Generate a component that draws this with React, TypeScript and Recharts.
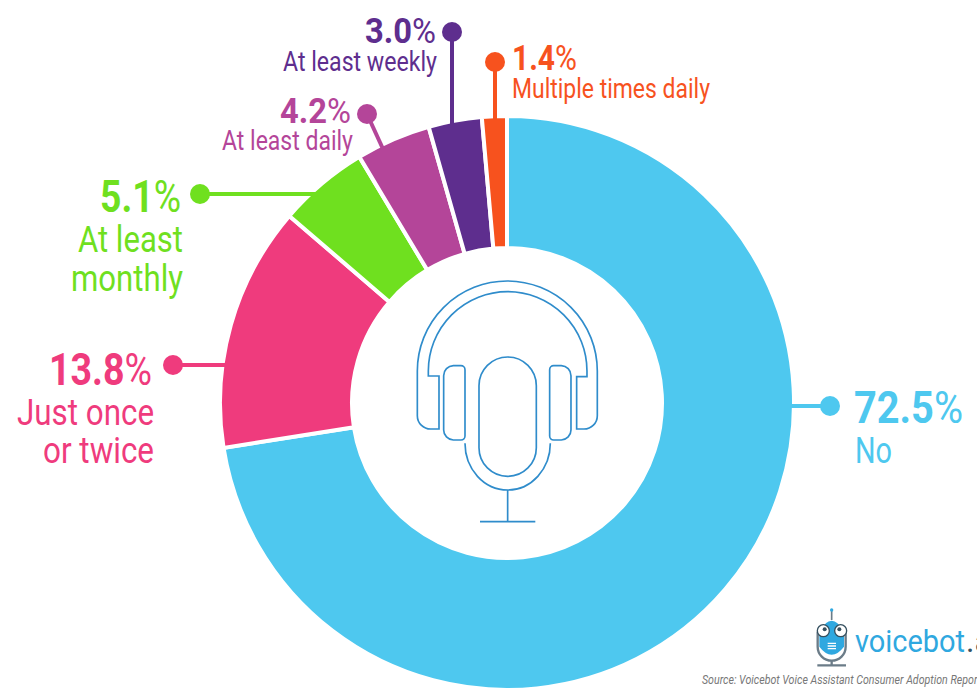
import { PieChart, Pie } from "recharts";

const categories = ["No", "Just once or twice", "At least monthly", "At least daily", "At least weekly", "Multiple times daily"];
const shares = [72.5, 13.8, 5.1, 4.2, 3.0, 1.4];
const colors = ["#4ec8ef", "#ef3b7d", "#6fe01f", "#b44599", "#5e2e8e", "#f7521e"];

const tableData = categories.map((name, i) => ({ name, value: shares[i], fill: colors[i] }));

const FONT = "Roboto, sans-serif";

// callout placement, same order as categories
const callouts = [
  { dot: [830, 406], end: [790, 406], num: [854, 423, 45, 109], lines: [{ t: "No", x: 855, y: 463, w: 37 }], size: 36 },
  { dot: [173, 365], end: [226, 365], num: [49, 385, 45, 103], lines: [{ t: "Just once", x: 17, y: 425, w: 137 }, { t: "or twice", x: 43, y: 463, w: 111 }], size: 36 },
  { dot: [200, 194], end: [318, 194], num: [100, 212, 45, 81], lines: [{ t: "At least", x: 78, y: 252, w: 105 }, { t: "monthly", x: 71, y: 291, w: 112 }], size: 36 },
  { dot: [367, 114], end: [383, 149], num: [280, 123, 35, 71], lines: [{ t: "At least daily", x: 222, y: 150, w: 131 }], size: 27 },
  { dot: [452, 32], end: [452, 128], num: [365, 43, 35, 71], lines: [{ t: "At least weekly", x: 283, y: 71, w: 154 }], size: 27 },
  { dot: [495, 62], end: [495, 122], num: [512, 70, 35, 65], lines: [{ t: "Multiple times daily", x: 512, y: 98, w: 198 }], size: 27 },
];

function renderCallout(props: any) {
  const c = callouts[props.index];
  const color = colors[props.index];
  const [nx, ny, nsize, nw] = c.num;
  return (
    <g key={props.index} fontFamily={FONT}>
      <line x1={c.dot[0]} y1={c.dot[1]} x2={c.end[0]} y2={c.end[1]} stroke={color} strokeWidth={4} />
      <circle cx={c.dot[0]} cy={c.dot[1]} r={10} fill={color} />
      <text x={nx} y={ny} fontSize={nsize} fill={color} textLength={nw} lengthAdjust="spacingAndGlyphs">
        <tspan fontWeight={700}>{shares[props.index].toFixed(1)}</tspan>
        <tspan fontWeight={400}>%</tspan>
      </text>
      {c.lines.map((l) => (
        <text key={l.t} x={l.x} y={l.y} fontSize={c.size} fill={color} textLength={l.w} lengthAdjust="spacingAndGlyphs">
          {l.t}
        </text>
      ))}
    </g>
  );
}

// traced in a 3x grid, hence the scale
function Headset() {
  return (
    <g transform="translate(400,290) scale(0.3333)" fill="none" stroke="#2f8ccb" strokeWidth={5}>
      <path d="M117 258H85V243A238 238 0 0 1 561 243V260H530V417H552A40 40 0 0 0 592 377V243A270 270 0 0 0 52 243V377A40 40 0 0 0 92 417H117Z" />
      <path d="M160 227H183A12 12 0 0 1 195 239V438A12 12 0 0 1 183 450H160A30 30 0 0 1 131 420V257A30 30 0 0 1 160 227Z" />
      <path d="M484 227H461A12 12 0 0 0 449 239V438A12 12 0 0 0 461 450H484A30 30 0 0 0 513 420V257A30 30 0 0 0 484 227Z" />
      <rect x={237} y={201} width={172} height={358} rx={86} />
      <path d="M195 460A128 140 0 0 0 451 460" />
      <path d="M323 600V695M240 695H406" />
    </g>
  );
}

function Logo() {
  return (
    <g>
      <g transform="translate(780,590) scale(0.3333)">
        <path d="M113 125V170A42 42 0 0 0 197 170V125" fill="none" stroke="#6b7c88" strokeWidth={7} />
        <path d="M155 212V225M112 226H198" stroke="#6b7c88" strokeWidth={7} fill="none" />
        <path d="M155 60V90" stroke="#6b7c88" strokeWidth={5} />
        <circle cx={155} cy={60} r={5} fill="#2fa8e0" />
        <path d="M118 125Q155 60 192 125V170Q155 218 118 170Z" fill="#2fa8e0" />
        <circle cx={130} cy={122} r={18} fill="#fff" stroke="#35505f" strokeWidth={4} />
        <circle cx={182} cy={122} r={18} fill="#fff" stroke="#35505f" strokeWidth={4} />
        <circle cx={134} cy={118} r={6} fill="#35505f" />
        <circle cx={178} cy={118} r={6} fill="#35505f" />
        <path d="M143 160H168M143 168H168M143 176H168" stroke="#fff" strokeWidth={4} />
      </g>
      <text x={855} y={652} fontFamily={FONT} fontWeight={400} fontSize={32} fill="#2fa8e0" textLength={110} lengthAdjust="spacingAndGlyphs">
        voicebot
      </text>
      <text x={966} y={652} fontFamily={FONT} fontWeight={400} fontSize={32} fill="#35505f">
        .ai
      </text>
    </g>
  );
}

export default function App() {
  return (
    <div style={{ position: "absolute", left: 0, top: 0, width: 977, height: 690, overflow: "hidden", background: "#fff" }}>
      <PieChart width={977} height={690} margin={{ top: 0, right: 0, bottom: 0, left: 0 }}>
        <Pie
          data={tableData}
          dataKey="value"
          nameKey="name"
          cx={507}
          cy={403}
          innerRadius={155}
          outerRadius={287}
          startAngle={90}
          endAngle={-270}
          stroke="#fff"
          strokeWidth={4}
          label={renderCallout}
          labelLine={false}
          isAnimationActive={false}
        />
        <Headset />
        <Logo />
        <text x={702} y={684} fontFamily={FONT} fontStyle="italic" fontSize={12} fill="#777" textLength={279} lengthAdjust="spacingAndGlyphs">
          Source: Voicebot Voice Assistant Consumer Adoption Report
        </text>
      </PieChart>
    </div>
  );
}
